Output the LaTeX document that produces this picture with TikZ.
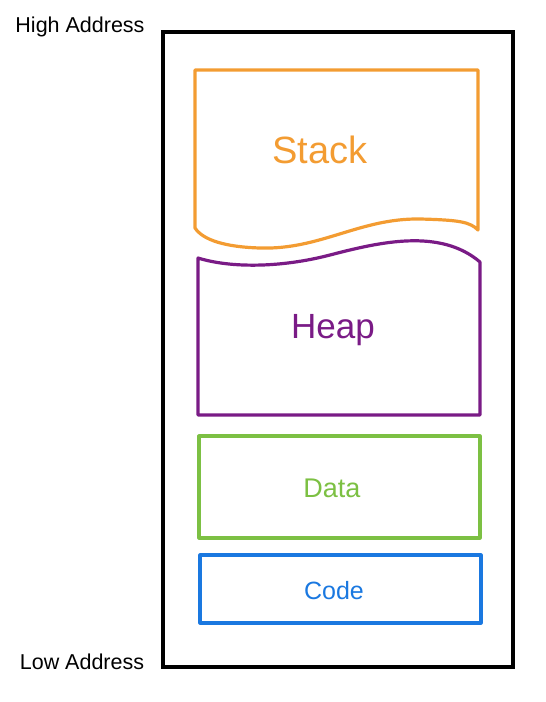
\documentclass[tikz,border=0pt]{standalone}
\usepackage{fontspec}
\setmainfont{Liberation Sans}
\definecolor{stackc}{HTML}{F39C32}
\definecolor{heapc}{HTML}{7A1B86}
\definecolor{datac}{HTML}{7CC043}
\definecolor{codec}{HTML}{1A78E0}
\begin{document}
\begin{tikzpicture}[x=1pt,y=-1pt,
  seg/.style={line width=3.2pt,line join=round,line cap=round},
  lbl/.style={inner sep=0pt,anchor=center}]
\useasboundingbox (0,0) rectangle (546,702);
% outer frame
\draw[line width=3.2pt] (163,32) rectangle (513,667);
% stack
\draw[seg,stackc] (195,70) -- (478,70) -- (478,230)
  .. controls (470,222) and (460,220) .. (420,219)
  .. controls (360,218) and (320,250) .. (260,248)
  .. controls (225,247) and (203,240) .. (195,228) -- cycle;
% heap
\draw[seg,heapc] (198,258)
  .. controls (230,268) and (280,268) .. (330,255)
  .. controls (380,242) and (440,228) .. (480,262)
  -- (480,415) -- (198,415) -- cycle;
% data
\draw[seg,datac] (199,436) rectangle (480,538);
% code
\draw[seg,codec] (200,555) rectangle (481,623);
% labels
\node[lbl,font=\fontsize{21.5}{21.5}\selectfont] (high) at (80,27) {High Address};
\node[lbl,font=\fontsize{21.5}{21.5}\selectfont] (low) at (82,662) {Low Address};
\node[lbl,text=stackc,font=\fontsize{38}{38}\selectfont] (stack) at (320,150) {Stack};
\node[lbl,text=heapc,font=\fontsize{35}{35}\selectfont] (heap) at (333,330) {Heap};
\node[lbl,text=datac,font=\fontsize{27}{27}\selectfont] (data) at (332,488) {Data};
\node[lbl,text=codec,font=\fontsize{25}{25}\selectfont] (code) at (334,591) {Code};
\end{tikzpicture}
\end{document}
